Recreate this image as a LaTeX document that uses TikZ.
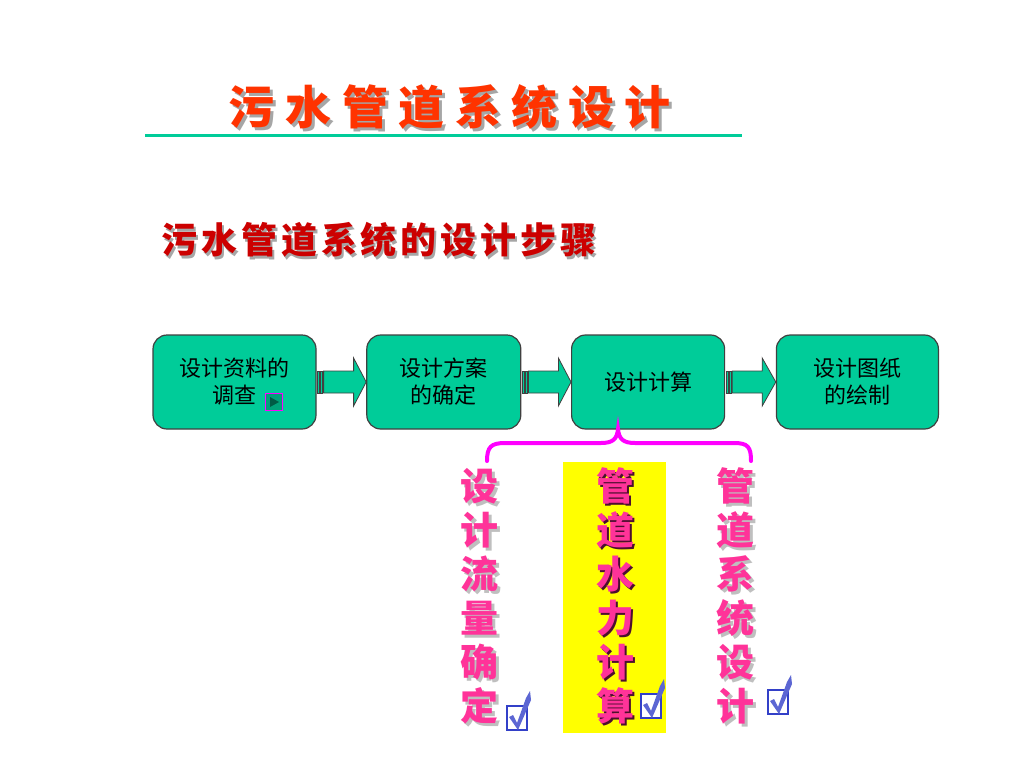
\documentclass[tikz,border=0pt]{standalone}
\usepackage{fontspec}
\newfontfamily\cjk{Noto Sans CJK SC}
\newfontfamily\cjktitle[LetterSpace=23]{Noto Sans CJK SC}
\newfontfamily\cjksub[LetterSpace=11]{Noto Sans CJK SC}
\usepackage{xcolor}
\definecolor{StepGreen}{HTML}{00CC99}
\definecolor{TitleRed}{HTML}{FF3300}
\definecolor{SubRed}{HTML}{CC0000}
\definecolor{PinkText}{HTML}{FF3399}
\definecolor{BraceMagenta}{HTML}{FF00FF}
\definecolor{HiYellow}{HTML}{FFFF00}
\definecolor{CheckBlue}{HTML}{3340C8}
\usetikzlibrary{calc}
\usetikzlibrary{positioning}

\tikzset{checkicon/.pic={
    \draw[CheckBlue, line width=1.8pt, fill=white] (-10,-12) rectangle (10,12);
    \fill[CheckBlue!80]
      (-8,-1) -- (-4,-3) -- (0,5) -- (9,-20) -- (13,-27) -- (14,-18) -- (1,12) -- cycle;
  }}

\begin{document}
\begin{tikzpicture}[x=1pt, y=-1pt,
    node distance=49.6pt,
    stepbox/.style={shape=rectangle,
      rounded corners=14pt,
      fill=StepGreen,
      draw=black!75,
      line width=1.2pt,
      minimum height=94pt,
      align=center,
      font=\cjk\fontsize{22}{27}\selectfont},
    arrowbar/.style={fill=StepGreen, draw=black!75, line width=0.8pt},
    vtext/.style={align=center, inner sep=0pt,
      font=\cjk\bfseries\fontsize{38}{44}\selectfont}]
    \path [use as bounding box, fill=white] (0,0) rectangle (1024,768);

    % title
    \node[name=titleshadow, text=black!35,
      font=\cjktitle\bfseries\fontsize{46}{50}\selectfont] at (453,110) {污水管道系统设计};
    \node[name=title, text=TitleRed,
      font=\cjktitle\bfseries\fontsize{46}{50}\selectfont] at (450,107) {污水管道系统设计};
    \draw[StepGreen, line width=3pt] (145,135) -- (742,135);

    \node[name=subshadow, text=black!35,
      font=\cjksub\bfseries\fontsize{36}{40}\selectfont] at (381,243) {污水管道系统的设计步骤};
    \node[name=subtitle, text=SubRed,
      font=\cjksub\bfseries\fontsize{36}{40}\selectfont] at (379,240) {污水管道系统的设计步骤};

    % steps
    \node[name=survey, stepbox, minimum width=163pt] at (234.5,382) {设计资料的\\调查};
    \node[name=scheme, stepbox, minimum width=154pt, right=of survey] {设计方案\\的确定};
    \node[name=compute, stepbox, minimum width=153pt, right=of scheme] {设计计算};
    \node[name=drawing, stepbox, minimum width=162pt, right=50.6pt of compute] {设计图纸\\的绘制};

    \node[name=playicon, draw=BraceMagenta, line width=1.8pt,
      fill=StepGreen!80!black, minimum size=17pt, inner sep=0pt] at (274,402) {};
    \fill[black!55!StepGreen] ($(playicon.center)+(-4,-5)$) -- ($(playicon.center)+(5,0)$)
      -- ($(playicon.center)+(-4,5)$) -- cycle;

    \foreach \from/\to in {survey/scheme, scheme/compute, compute/drawing} {
      \draw[arrowbar] ($(\from.east)+(1,-11)$) rectangle ($(\from.east)+(3,11)$);
      \draw[arrowbar] ($(\from.east)+(4,-11)$) rectangle ($(\from.east)+(6,11)$);
      \draw[arrowbar] ($(\from.east)+(7,-11)$) -- ($(\from.east)+(37,-11)$)
        -- ($(\from.east)+(37,-24)$) -- (\to.west) -- ($(\from.east)+(37,24)$)
        -- ($(\from.east)+(37,11)$) -- ($(\from.east)+(7,11)$) -- cycle;
    }

    % brace
    \draw[BraceMagenta, line width=4pt, line cap=round]
      (487,461) .. controls (487,447) and (491,443) .. (505,443) -- (601,443)
      .. controls (613,443) and (617,439) .. (618,429)
      .. controls (619,439) and (623,443) .. (635,443) -- (734,443)
      .. controls (748,443) and (751,447) .. (751,461);

    \fill[HiYellow] (563,462) rectangle (666,733);

    % sub steps
    \node[name=flowshadow, vtext, text=black!25] at (482,599) {设\\计\\流\\量\\确\\定};
    \node[name=flow, vtext, text=PinkText] at (479,596) {设\\计\\流\\量\\确\\定};
    \node[name=hydroshadow, vtext, text=black!70!PinkText] at (617,598) {管\\道\\水\\力\\计\\算};
    \node[name=hydro, vtext, text=PinkText] at (615,596) {管\\道\\水\\力\\计\\算};
    \node[name=layoutshadow, vtext, text=black!25] at (738,599) {管\\道\\系\\统\\设\\计};
    \node[name=layout, vtext, text=PinkText] at (735,596) {管\\道\\系\\统\\设\\计};

    \path (517,718) pic {checkicon};
    \path (651,706) pic {checkicon};
    \path (778,702) pic {checkicon};
  \end{tikzpicture}
\end{document}
